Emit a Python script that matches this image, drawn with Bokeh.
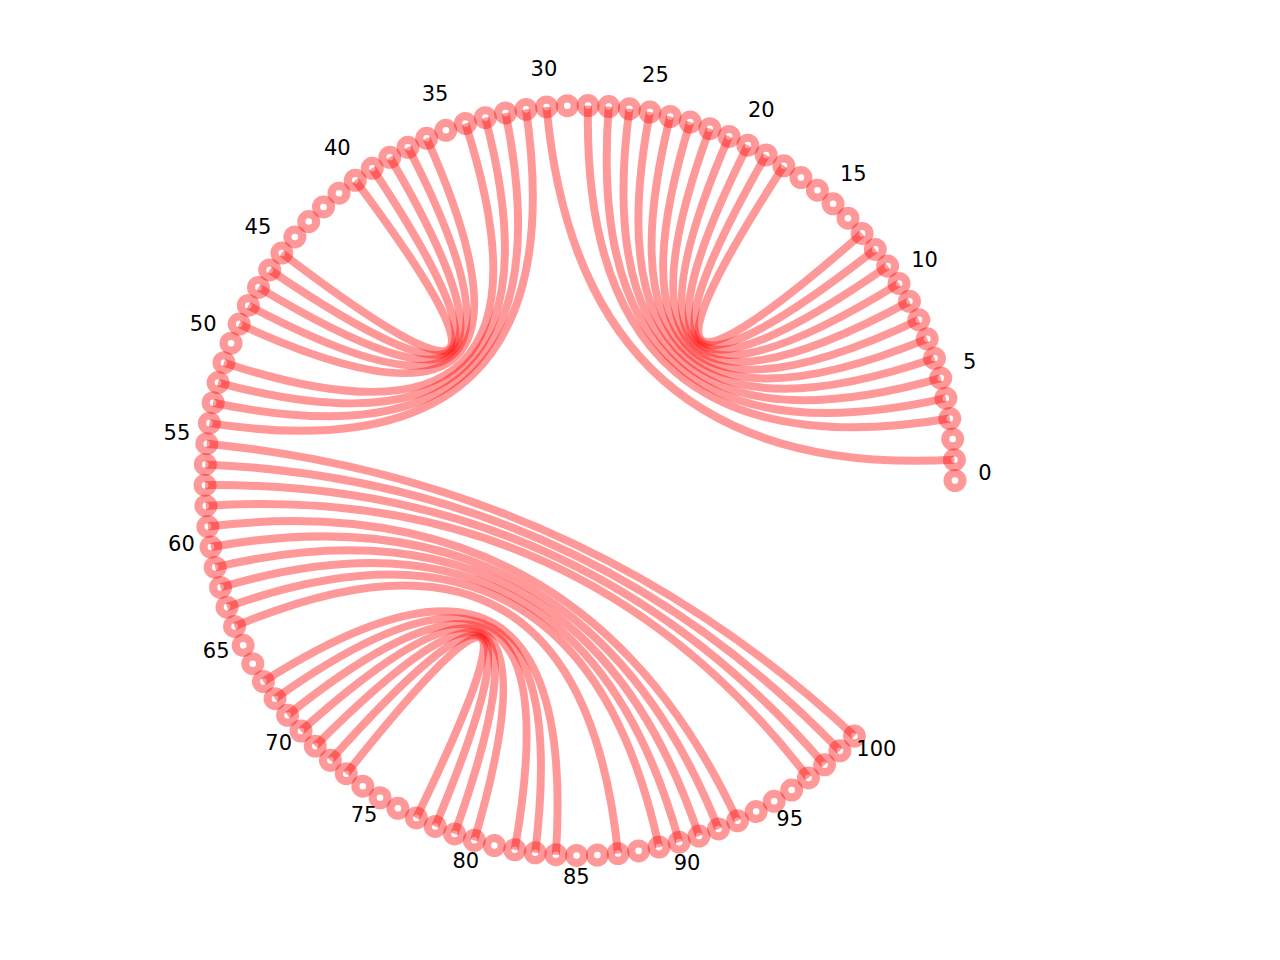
import math
from bokeh.plotting import figure
from bokeh.models import ColumnDataSource, Range1d
from bokeh.embed import file_html
from bokeh.resources import INLINE
from bokeh.core.properties import value

# ---- data ----
node_ids = list(range(101))
angle_step_deg = 3.1704  # angular spacing of the circular layout

edge_start = [1, 3, 4, 5, 6, 7, 8, 9, 10, 11, 12, 13,
              31, 32, 33, 34, 36, 37, 38, 39, 40,
              55, 56, 57, 58, 59, 60, 61, 62, 63, 64,
              67, 68, 69, 70, 71, 72, 73]
edge_end = [30, 28, 27, 26, 25, 24, 23, 22, 21, 20, 19, 18,
            54, 53, 52, 51, 49, 48, 47, 46, 45,
            100, 99, 98, 97, 93, 92, 91, 90, 89, 87,
            84, 83, 82, 80, 79, 78, 77]

label_ids = list(range(0, 101, 5))
label_text = [str(i) for i in label_ids]

# ---- circular layout ----
def pos(i, r=1.0):
    a = math.radians(i * angle_step_deg)
    return r * math.cos(a), r * math.sin(a)

nx = [pos(i)[0] for i in node_ids]
ny = [pos(i)[1] for i in node_ids]

ex0 = [pos(i)[0] for i in edge_start]
ey0 = [pos(i)[1] for i in edge_start]
ex1 = [pos(i)[0] for i in edge_end]
ey1 = [pos(i)[1] for i in edge_end]

lx = [pos(i, 1.08)[0] for i in label_ids]
ly = [pos(i, 1.08)[1] for i in label_ids]

W, H = 1264, 944
scale = 375.0
cx_pix, cy_pix = 579.5, 480.0
x0 = -cx_pix / scale
x1 = x0 + W / scale
y1 = cy_pix / scale
y0 = y1 - H / scale

p = figure(width=W, height=H, output_backend="svg", toolbar_location=None,
           x_range=Range1d(x0, x1), y_range=Range1d(y0, y1),
           x_axis_type=None, y_axis_type=None, min_border=0)
p.grid.visible = False
p.outline_line_color = None
p.background_fill_color = "white"
p.border_fill_color = "white"

edges = ColumnDataSource(dict(x0=ex0, y0=ey0, x1=ex1, y1=ey1,
                              cx=[0.0] * len(ex0), cy=[0.0] * len(ex0)))
p.quadratic(x0="x0", y0="y0", x1="x1", y1="y1", cx="cx", cy="cy",
            source=edges, line_color="red", line_alpha=0.4, line_width=8)

nodes = ColumnDataSource(dict(x=nx, y=ny))
p.scatter(x="x", y="y", source=nodes, marker="circle", size=14.8,
          line_width=8.2, line_color="red", line_alpha=0.4, fill_alpha=0)

labels = ColumnDataSource(dict(x=lx, y=ly, t=label_text))
p.text(x="x", y="y", text="t", source=labels, text_align="center",
       text_baseline="middle", y_offset=-9, text_color="black",
       text_font=value("DejaVu Sans"), text_font_size="21px")

open("out.html", "w").write(file_html(p, INLINE))
